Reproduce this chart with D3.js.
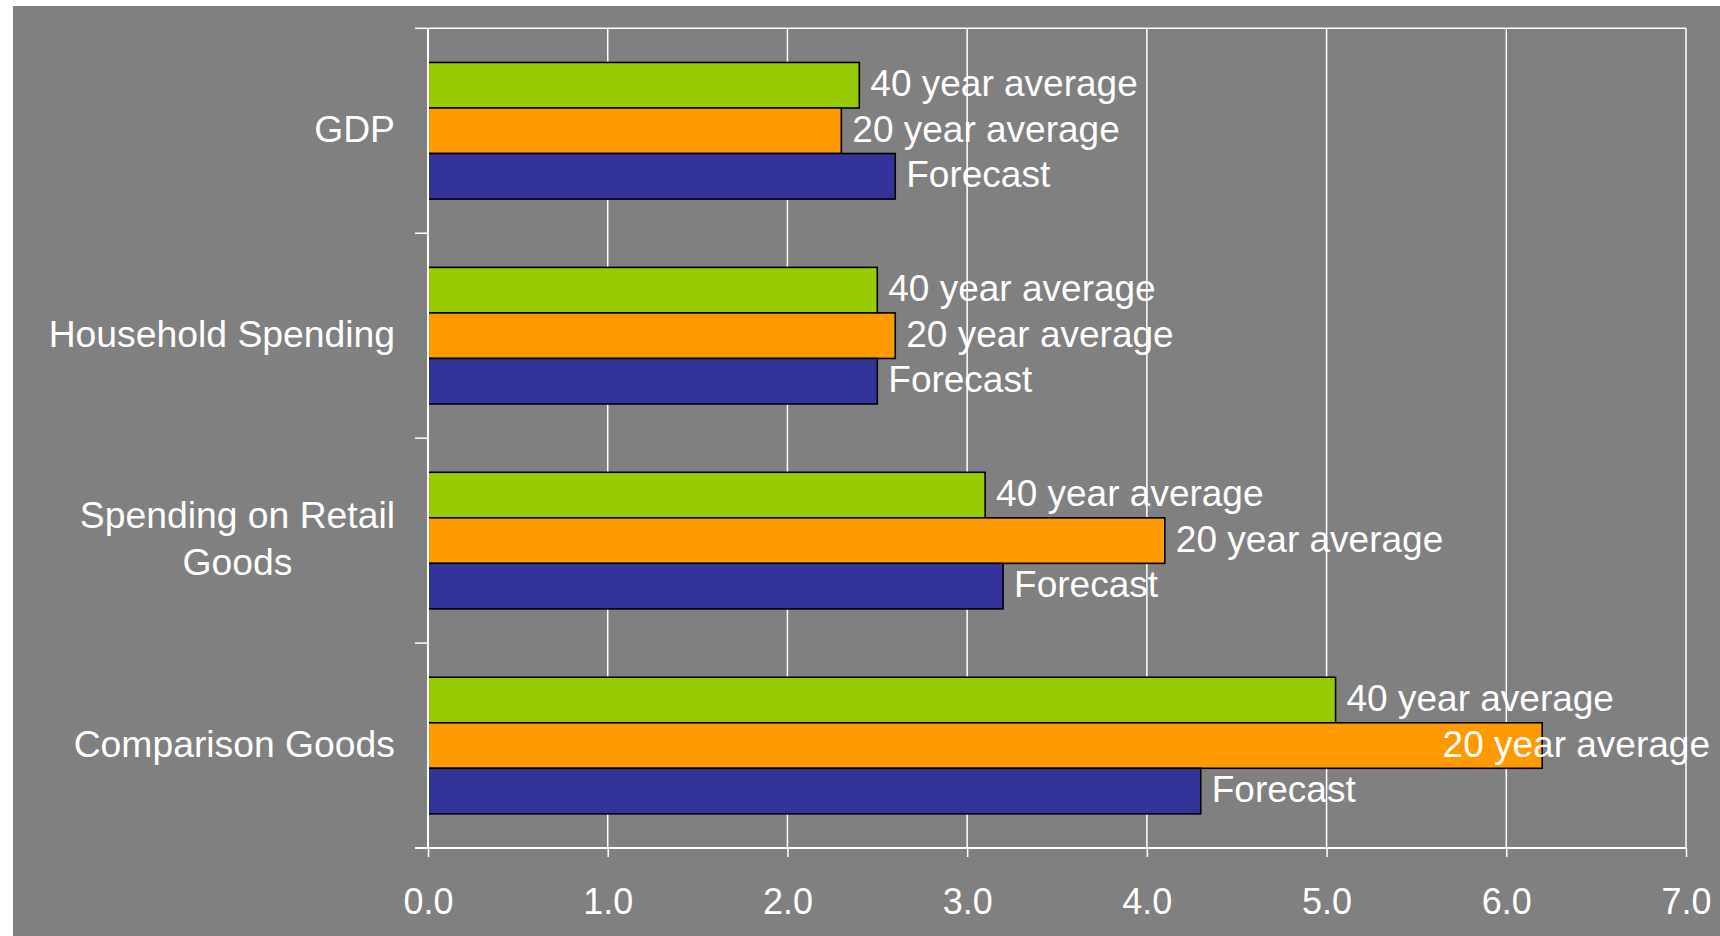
<!DOCTYPE html>
<html>
<head>
<meta charset="utf-8">
<script src="https://cdn.jsdelivr.net/npm/d3@7/dist/d3.min.js"></script>
<style>
  html, body { margin: 0; padding: 0; background: #ffffff; }
  svg { display: block; }
  text { font-family: "Liberation Sans", Arial, sans-serif; fill: #ffffff; }
</style>
</head>
<body>
<svg id="chart" width="1720" height="936"></svg>
<script>
// Growth rates (% per year) by measure
const categories = [
  ["GDP"],
  ["Household Spending"],
  ["Spending on Retail", "Goods"],
  ["Comparison Goods"]
];
const seriesNames = ["40 year average", "20 year average", "Forecast"];
const fortyYear  = [2.4, 2.5, 3.1, 5.05];
const twentyYear = [2.3, 2.6, 4.1, 6.2];
const forecast   = [2.6, 2.5, 3.2, 4.3];
const xTicks = [0, 1, 2, 3, 4, 5, 6, 7];
const colors = ["#99CC00", "#FF9900", "#333399"];

const seriesValues = [fortyYear, twentyYear, forecast];

const W = 1720, H = 936;
const plot = { left: 428, right: 1686, top: 28.3, bottom: 848 };
const catFont = 37.3;
const labelFont = 37;

const svg = d3.select("#chart");

// chart background
svg.append("rect")
  .attr("x", 13).attr("y", 6)
  .attr("width", W - 13).attr("height", H - 6)
  .attr("fill", "#808080");

const x = d3.scaleLinear().domain([0, 7]).range([plot.left, plot.right]);
const catKeys = categories.map((c, i) => i);
// 150% gap width: bar group fills 2/3 of each band
const band = (plot.bottom - plot.top) / categories.length;
const groupH = band * 2 / 3;
const yCat = d3.scaleBand().domain(catKeys).range([plot.top, plot.bottom]);
const ySub = d3.scaleBand().domain(d3.range(seriesNames.length)).range([0, groupH]);

// vertical gridlines
svg.append("g").selectAll("line")
  .data(xTicks.filter(t => t > 0))
  .join("line")
  .attr("x1", d => x(d)).attr("x2", d => x(d))
  .attr("y1", plot.top).attr("y2", plot.bottom)
  .attr("stroke", "#ffffff").attr("stroke-width", 1.5);

// top border of plot area
svg.append("line")
  .attr("x1", plot.left).attr("x2", plot.right)
  .attr("y1", plot.top).attr("y2", plot.top)
  .attr("stroke", "#ffffff").attr("stroke-width", 1.5);

// bars
const rows = [];
catKeys.forEach(ci => {
  seriesValues.forEach((vals, si) => {
    rows.push({ ci, si, v: vals[ci] });
  });
});

const barY = d => yCat(d.ci) + (band - groupH) / 2 + ySub(d.si);

svg.append("g").selectAll("rect")
  .data(rows)
  .join("rect")
  .attr("x", x(0))
  .attr("y", barY)
  .attr("width", d => x(d.v) - x(0))
  .attr("height", ySub.bandwidth())
  .attr("fill", d => colors[d.si])
  .attr("stroke", "#000000")
  .attr("stroke-width", 1.6);

// x axis
const xAxis = d3.axisBottom(x).tickValues(xTicks).tickFormat(d3.format(".1f"))
  .tickSize(9).tickPadding(31);
const gx = svg.append("g").attr("transform", `translate(0,${plot.bottom})`).call(xAxis);
gx.select(".domain").remove();
gx.selectAll(".tick line").attr("stroke", "#ffffff").attr("stroke-width", 1.5);
gx.selectAll(".tick text")
  .attr("fill", "#ffffff")
  .style("font-family", '"Liberation Sans", Arial, sans-serif')
  .style("font-size", "36px");
svg.append("line")
  .attr("x1", plot.left - 13).attr("x2", plot.right)
  .attr("y1", plot.bottom).attr("y2", plot.bottom)
  .attr("stroke", "#ffffff").attr("stroke-width", 2);

// category axis: line and ticks at band boundaries
svg.append("line")
  .attr("x1", plot.left).attr("x2", plot.left)
  .attr("y1", plot.top).attr("y2", plot.bottom)
  .attr("stroke", "#ffffff").attr("stroke-width", 2);
const boundaries = catKeys.map(ci => yCat(ci)).concat([plot.bottom]);
svg.append("g").selectAll("line")
  .data(boundaries)
  .join("line")
  .attr("x1", plot.left - 13).attr("x2", plot.left)
  .attr("y1", d => d).attr("y2", d => d)
  .attr("stroke", "#ffffff").attr("stroke-width", 1.5);

// category labels, right-aligned block with centred lines
const lineH = 47;
const catG = svg.append("g");
categories.forEach((lines, ci) => {
  const cy = yCat(ci) + band / 2;
  const t = catG.append("text")
    .style("font-size", catFont + "px")
    .attr("text-anchor", "middle");
  lines.forEach((ln, li) => {
    t.append("tspan")
      .attr("y", cy + (li - (lines.length - 1) / 2) * lineH)
      .attr("dy", "0.3em")
      .text(ln);
  });
  let maxW = 0;
  t.selectAll("tspan").each(function () {
    maxW = Math.max(maxW, this.getComputedTextLength());
  });
  t.selectAll("tspan").attr("x", plot.left - 33 - maxW / 2);
});

// data labels: series name beside each bar end, kept inside the chart
const labG = svg.append("g");
rows.forEach(d => {
  const t = labG.append("text")
    .style("font-size", labelFont + "px")
    .attr("y", barY(d) + ySub.bandwidth() / 2)
    .attr("dy", "0.3em")
    .text(seriesNames[d.si]);
  const w = t.node().getComputedTextLength();
  const lx = Math.min(x(d.v) + 11, W - 10 - w);
  t.attr("x", lx);
});
</script>
</body>
</html>
